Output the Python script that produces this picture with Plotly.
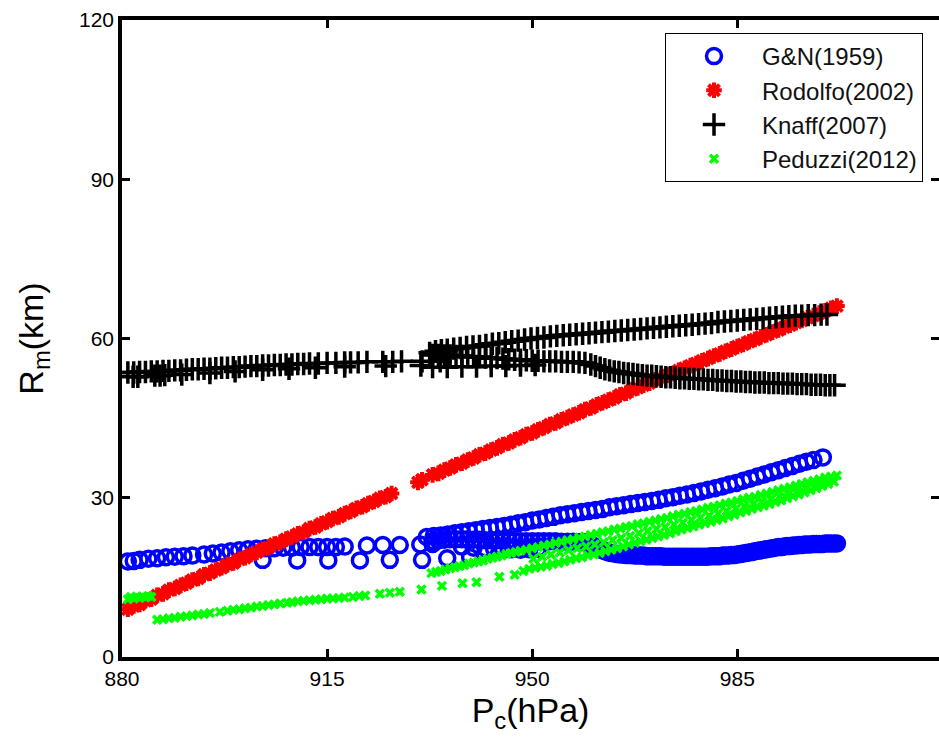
import plotly.graph_objects as go

# Radius of maximum wind (km) versus central pressure (hPa) for four empirical models.
# Each branch is a list of (Pc, Rm) pairs.

# G&N (1959)
gn_upper_left = [(881, 18.0), (882, 18.1), (883, 18.3), (884.5, 18.5), (886, 18.6), (887.5, 18.8),
                 (889, 18.9), (890.5, 19.0), (892, 19.1), (894, 19.3), (895.5, 19.5), (897, 19.7),
                 (898.5, 19.9), (900, 20.1), (901.5, 20.3), (903, 20.4), (904.5, 20.5), (906, 20.5),
                 (907.5, 20.6), (909, 20.6), (910.5, 20.7), (912, 20.7), (913.5, 20.7), (915, 20.7),
                 (916.5, 20.7), (918, 20.8), (921.8, 21.0), (924.5, 21.1), (927.4, 21.1), (930.9, 21.2),
                 (933, 21.3)]
gn_sparse_low = [(904.0, 18.3), (909.9, 18.2), (915.2, 18.2), (920.6, 18.2), (925.7, 18.3),
                 (931.2, 18.3), (935.5, 18.6), (939.4, 18.8)]
gn_upper_right = [(932.0, 22.6), (933.2, 22.8), (934.4, 22.9), (935.6, 23.1), (936.8, 23.3), (938.0, 23.5),
                  (939.2, 23.7), (940.4, 23.9), (941.6, 24.1), (942.8, 24.3), (944.0, 24.5), (945.2, 24.7),
                  (946.4, 24.9), (947.6, 25.2), (948.8, 25.4), (950.0, 25.7), (951.2, 25.9), (952.4, 26.2),
                  (953.6, 26.4), (954.8, 26.7), (956.0, 26.9), (957.2, 27.1), (958.4, 27.3), (959.6, 27.5),
                  (960.8, 27.7), (962.0, 27.9), (963.2, 28.2), (964.4, 28.4), (965.6, 28.6), (966.8, 28.8),
                  (968.0, 29.0), (969.2, 29.2), (970.4, 29.4), (971.6, 29.6), (972.8, 29.9), (974.0, 30.1),
                  (975.2, 30.4), (976.4, 30.6), (977.6, 30.9), (978.8, 31.2), (980.0, 31.5), (981.2, 31.8),
                  (982.4, 32.1), (983.6, 32.5), (984.8, 32.8), (986.0, 33.2), (987.2, 33.6), (988.4, 34.0),
                  (989.6, 34.4), (990.8, 34.8), (992.0, 35.2), (993.2, 35.6), (994.4, 36.0), (995.6, 36.4),
                  (996.8, 36.8), (998.0, 37.1), (999.6, 37.6)]
gn_lower_right = [(933, 21.8), (934, 22.0), (935, 22.1), (936, 22.2), (937, 22.2), (938, 22.2), (939, 22.2),
                  (940, 22.1), (941, 22.1), (942, 22.0), (943, 22.0), (944, 22.0), (945, 21.9), (946, 21.9),
                  (947, 21.9), (948, 21.8), (949, 21.8), (950, 21.8), (951, 21.8), (952, 21.8), (953, 21.8),
                  (954, 21.8), (955, 21.7), (956, 21.7), (957, 21.7), (958, 21.6),
                  (959, 21.6), (959.5, 21.4), (960, 21.2), (960.5, 20.9), (961, 20.6), (961.5, 20.3),
                  (962, 20.1), (962.5, 19.9), (963, 19.7), (963.5, 19.6), (964, 19.5), (964.5, 19.4),
                  (965, 19.3), (965.5, 19.3), (966, 19.2), (966.5, 19.2), (967, 19.2), (967.5, 19.1),
                  (968, 19.1), (968.5, 19.1), (969, 19.1), (969.5, 19.0), (970, 19.0), (970.5, 19.0),
                  (971, 19.0), (971.5, 19.0), (972, 19.0), (972.5, 18.9), (973, 18.9), (973.5, 18.9),
                  (974, 18.9), (974.5, 18.9), (975, 18.9), (975.5, 18.9), (976, 18.9), (976.5, 18.9),
                  (977, 18.9), (977.5, 18.9), (978, 18.9), (978.5, 18.9), (979, 18.9), (979.5, 18.9),
                  (980, 18.9), (980.5, 19.0), (981, 19.0), (981.5, 19.0), (982, 19.0), (982.5, 19.1),
                  (983, 19.1), (983.5, 19.1), (984, 19.2), (984.5, 19.2), (985, 19.3), (985.5, 19.4),
                  (986, 19.5), (986.5, 19.6), (987, 19.7), (987.5, 19.8), (988, 19.9), (988.5, 20.0),
                  (989, 20.1), (989.5, 20.2), (990, 20.3), (990.5, 20.4), (991, 20.5), (991.5, 20.6),
                  (992, 20.7), (992.5, 20.7), (993, 20.8), (993.5, 20.9), (994, 20.9), (994.5, 21.0),
                  (995, 21.0), (995.5, 21.1), (996, 21.1), (996.5, 21.2), (997, 21.2), (997.5, 21.2),
                  (998, 21.3), (998.5, 21.3), (999, 21.3), (999.5, 21.3), (1000, 21.4), (1000.5, 21.4),
                  (1001, 21.4), (1001.5, 21.4), (1002, 21.4)]
gn_mid = [(938, 20.8), (940, 20.6), (942, 20.5), (943.5, 20.4), (945, 20.3), (946.5, 20.3),
          (948, 20.2), (949.5, 20.3), (951, 20.4)]

# Rodolfo (2002)
rod = [(881, 9.0), (882, 9.6), (883, 9.9), (884, 10.6), (885, 10.9), (886, 11.6), (887, 11.9), (888, 12.6),
       (889, 12.9), (890, 13.5), (891, 13.9), (892, 14.5), (893, 14.8), (894, 15.5), (895, 15.8), (896, 16.4),
       (897, 16.8), (898, 17.4), (899, 17.7), (900, 18.4), (901, 18.7), (902, 19.3), (903, 19.7), (904, 20.3),
       (905, 20.6), (906, 21.3), (907, 21.6), (908, 22.2), (909, 22.6), (910, 23.2), (911, 23.5), (912, 24.2),
       (913, 24.5), (914, 25.1), (915, 25.5), (916, 26.1), (917, 26.4), (918, 27.0), (919, 27.4), (920, 28.0),
       (921, 28.3), (922, 28.9), (923, 29.3), (924, 29.9), (925, 30.2), (926, 30.8), (930.5, 32.9),
       (931.2, 33.4), (933, 34.3), (934, 34.6), (935, 35.2), (936, 35.6), (937, 36.2), (938, 36.5),
       (939, 37.1), (940, 37.5), (941, 38.1), (942, 38.4), (943, 39.0), (944, 39.4), (945, 40.0), (946, 40.3),
       (947, 40.9), (948, 41.3), (949, 41.9), (950, 42.2), (951, 42.8), (952, 43.2), (953, 43.8), (954, 44.1),
       (955, 44.7), (956, 45.1), (957, 45.6), (958, 46.0), (959, 46.6), (960, 46.9), (961, 47.5), (962, 47.9),
       (963, 48.4), (964, 48.8), (965, 49.4), (966, 49.7), (967, 50.3), (968, 50.7), (969, 51.2), (970, 51.6),
       (971, 52.2), (972, 52.5), (973, 53.1), (974, 53.4), (975, 54.0), (976, 54.4), (977, 54.9), (978, 55.3),
       (979, 55.8), (980, 56.2), (981, 56.7), (982, 57.1), (983, 57.6), (984, 58.0), (985, 58.5), (986, 58.9),
       (987, 59.4), (988, 59.8), (989, 60.3), (990, 60.7), (991, 61.2), (992, 61.6), (993, 62.1), (994, 62.5),
       (995, 63.0), (996, 63.4), (997, 63.9), (998, 64.3), (999, 64.8), (1000, 65.2), (1001, 65.7),
       (1002, 66.1)]

# Knaff (2007)
kn_left = [(881, 53.6), (882, 53.6), (883, 53.7), (884, 53.7), (885, 53.8), (886, 53.8), (887, 53.9),
           (888, 53.9), (889, 54.0), (890, 54.0), (891, 54.1), (892, 54.2), (893, 54.2), (894, 54.3),
           (895, 54.3), (896, 54.4), (897, 54.5), (898, 54.5), (899, 54.6), (900, 54.6), (901, 54.7),
           (902, 54.8), (903, 54.8), (904, 54.9), (905, 54.9), (906, 55.0), (907, 55.0), (908, 55.1),
           (909, 55.1), (910, 55.2), (911, 55.2), (912, 55.3), (913.5, 55.3), (915, 55.4), (916.5, 55.4),
           (918, 55.5), (919, 55.5), (920.3, 55.5), (921.8, 55.6), (924.5, 55.6), (926.2, 55.6),
           (927.7, 55.7), (931.2, 55.7), (934.3, 55.7)]
kn_left_low = [(881.9, 52.8), (882.7, 52.8), (885.6, 53.0), (886.5, 53.0), (887.3, 53.1), (890.2, 53.2),
               (895, 53.5), (899.3, 53.8), (904, 54.1), (908.5, 54.3), (913, 54.5), (918, 54.7),
               (925, 54.8), (931, 54.9)]
kn_upper = [(932.5, 57.3), (933.5, 57.6), (934.5, 57.8), (935.5, 57.9), (936.6, 58.1), (937.7, 58.2),
            (938.8, 58.4), (939.9, 58.5), (941, 58.6), (942.1, 58.8), (943.2, 59.0), (944.3, 59.1),
            (945.4, 59.3), (946.5, 59.5), (947.6, 59.6), (948.7, 59.8), (949.8, 60.0), (950.9, 60.1),
            (952, 60.2), (953.1, 60.4), (954.2, 60.5), (955.3, 60.6), (956.4, 60.7), (957.5, 60.8),
            (958.6, 60.9), (959.7, 61.0), (960.8, 61.1), (961.9, 61.2), (963, 61.3), (964.1, 61.4),
            (965.2, 61.5), (966.3, 61.6), (967.4, 61.7), (968.5, 61.8), (969.6, 61.9), (970.7, 62.0),
            (971.8, 62.1), (972.9, 62.2), (974, 62.3), (975.1, 62.4), (976.2, 62.5), (977.3, 62.6),
            (978.4, 62.7), (979.5, 62.8), (980.6, 62.9), (981.7, 63.1), (982.8, 63.2), (983.9, 63.3),
            (985, 63.4), (986.1, 63.5), (987.2, 63.6), (988.3, 63.7), (989.4, 63.8), (990.5, 63.9),
            (991.6, 64.0), (992.7, 64.1), (993.8, 64.2), (994.9, 64.3), (996, 64.3), (997.1, 64.4),
            (998.2, 64.4), (999.3, 64.5), (1000.3, 64.5)]
kn_lower = [(933, 56.9), (934, 56.9), (935, 56.8), (936, 56.8), (937, 56.7), (938, 56.7), (939, 56.6),
            (940, 56.5), (941, 56.5), (942, 56.4), (943, 56.3), (944, 56.3), (945, 56.2), (946, 56.1),
            (947, 56.0), (948, 56.0), (949, 55.9), (950, 55.8), (951, 55.8), (952, 55.7), (953, 55.7),
            (954, 55.7), (955, 55.6), (956, 55.6), (957, 55.6), (958, 55.5), (959, 55.4), (960, 55.1),
            (960.8, 54.8), (961.6, 54.5), (962.4, 54.2), (963.2, 54.0), (964, 53.8), (964.8, 53.7),
            (965.6, 53.5), (966.4, 53.4), (967.2, 53.3), (968, 53.2), (968.8, 53.1), (969.6, 53.0),
            (970.4, 53.0), (971.2, 52.9), (972, 52.8), (972.8, 52.7), (973.6, 52.7), (974.4, 52.6),
            (975.2, 52.5), (976, 52.5), (976.8, 52.4), (977.6, 52.4), (978.4, 52.3), (979.2, 52.3),
            (980, 52.2), (980.8, 52.2), (981.6, 52.1), (982.4, 52.1), (983.2, 52.0), (984, 52.0),
            (984.8, 51.9), (985.6, 51.9), (986.4, 51.8), (987.2, 51.8), (988, 51.7), (988.8, 51.7),
            (989.6, 51.7), (990.4, 51.6), (991.2, 51.6), (992, 51.6), (992.8, 51.5), (993.6, 51.5),
            (994.4, 51.5), (995.2, 51.4), (996, 51.4), (996.8, 51.4), (997.6, 51.3), (998.4, 51.3),
            (999.2, 51.3), (1000, 51.2), (1000.8, 51.2), (1001.6, 51.2)]
kn_lower_low = [(933, 54.6), (935.5, 54.6), (938, 54.7), (940.5, 54.7), (943, 54.8), (945.5, 54.8),
                (948, 54.9), (950.5, 55.0)]

# Peduzzi (2012)
pd_cluster = [(881, 10.9), (881.5, 11.3), (882, 11.0), (882.5, 11.4), (883, 11.1), (883.5, 11.4),
              (884, 11.2), (884.5, 11.5), (885, 11.3)]
pd_low = [(886, 7.0), (887, 7.1), (888, 7.3), (889, 7.4), (890, 7.6), (891, 7.7), (892, 7.8), (893, 8.0),
          (894, 8.1), (895, 8.3), (896.7, 8.5), (898, 8.7), (899, 8.9), (900, 9.0), (901, 9.2), (902, 9.3),
          (903, 9.5), (904, 9.6), (905, 9.8), (906, 9.9), (907, 10.1), (908.2, 10.2), (909, 10.3),
          (910, 10.5), (911, 10.6), (912, 10.7), (913, 10.8), (914, 10.9), (915, 11.0), (916, 11.0),
          (917, 11.1), (918, 11.2), (919.4, 11.3), (920.5, 11.5), (921.5, 11.6), (924, 11.9),
          (925.7, 12.1), (927.4, 12.3), (931.1, 12.7), (934.6, 13.4)]
pd_low_right = [(938.1, 13.9), (940.5, 14.1), (944.4, 15.1), (947, 15.5), (948.5, 16.2), (949.5, 16.6),
                (950.5, 16.8), (951.5, 17.0), (952.5, 17.2), (953.5, 17.5), (954.5, 17.7), (955.5, 18.0),
                (956.5, 18.3), (957.5, 18.6), (958.5, 18.8), (959.5, 19.1), (960.5, 19.3), (961.5, 19.6),
                (962.5, 19.9), (963.5, 20.2), (964.5, 20.5), (965.5, 20.8), (966.5, 21.2), (967.5, 21.5),
                (968.5, 21.8), (969.5, 22.1), (970.5, 22.4), (971.5, 22.7), (972.5, 23.0), (973.5, 23.3),
                (974.5, 23.7), (975.5, 24.0), (976.5, 24.3), (977.5, 24.6), (978.5, 24.9), (979.5, 25.2),
                (980.5, 25.5), (981.5, 25.8), (982.5, 26.1), (983.5, 26.5), (984.5, 26.8), (985.5, 27.2),
                (986.5, 27.5), (987.5, 27.9), (988.5, 28.2), (989.5, 28.5), (990.5, 28.8), (991.5, 29.2),
                (992.5, 29.5), (993.5, 29.9), (994.5, 30.3), (995.5, 30.6), (996.5, 31.0), (997.5, 31.4),
                (998.5, 31.8), (999.5, 32.2), (1000.5, 32.6), (1001.5, 33.0)]
pd_mid_right = [(950.2, 18.5), (951.7, 18.9), (953.2, 19.3), (954.7, 19.7), (956.2, 20.1), (957.7, 20.5),
                (959.2, 20.8), (960.7, 21.2), (962.2, 21.6), (963.7, 22.0), (965.2, 22.4), (966.7, 22.8),
                (968.2, 23.3), (969.7, 23.7), (971.2, 24.1), (972.7, 24.5), (974.2, 24.9), (975.7, 25.3),
                (977.2, 25.8), (978.7, 26.2), (980.2, 26.6), (981.7, 27.0), (983.2, 27.5), (984.7, 27.9),
                (986.2, 28.4), (987.7, 28.8), (989.2, 29.3), (990.7, 29.7), (992.2, 30.2), (993.7, 30.7),
                (995.2, 31.2), (996.7, 31.7), (998.2, 32.2), (999.7, 32.8)]
pd_up_right = [(932.8, 15.8), (933.6, 16.0), (934.4, 16.2), (935.2, 16.5), (936, 16.7), (936.8, 16.9),
               (937.6, 17.1), (938.4, 17.3), (939.2, 17.6), (940, 17.8), (940.8, 18.0), (941.6, 18.2),
               (942.4, 18.5), (943.2, 18.7), (944, 18.9), (944.8, 19.1), (945.6, 19.4), (946.4, 19.6),
               (947.2, 19.8), (948, 20.0), (949, 20.2), (950, 20.5), (951, 20.7), (952, 21.0), (953, 21.2),
               (954, 21.5), (955, 21.7), (956, 22.0), (957, 22.2), (958, 22.5), (959, 22.7), (960, 23.0),
               (961, 23.2), (962, 23.5), (963, 23.7), (964, 24.0), (965, 24.2), (966, 24.5), (967, 24.7),
               (968, 25.0), (969, 25.2), (970, 25.5), (971, 25.7), (972, 26.0), (973, 26.2), (974, 26.5),
               (975, 26.8), (976, 27.0), (977, 27.3), (978, 27.5), (979, 27.8), (980, 28.1), (981, 28.3),
               (982, 28.6), (983, 28.9), (984, 29.1), (985, 29.4), (986, 29.7), (987, 30.0), (988, 30.2),
               (989, 30.5), (990, 30.8), (991, 31.1), (992, 31.4), (993, 31.7), (994, 32.0), (995, 32.3),
               (996, 32.6), (997, 32.9), (998, 33.2), (999, 33.5), (1000, 33.8), (1001, 34.0), (1002, 34.2)]

x_ticks = [880, 915, 950, 985]
y_ticks = [0, 30, 60, 90, 120]

FONT = "Liberation Sans, Arial, Helvetica, sans-serif"


def split(*branches):
    pc, rm = [], []
    for b in branches:
        for p, r in b:
            pc.append(p)
            rm.append(r)
    return pc, rm


series = [
    ("G&N(1959)", split(gn_upper_left, gn_sparse_low, gn_upper_right, gn_lower_right, gn_mid),
     dict(symbol="circle-open", size=15, color="#0000ff", line=dict(width=3.5, color="#0000ff"))),
    ("Rodolfo(2002)", split(rod),
     dict(symbol="asterisk-open", size=13, color="#ff0000", line=dict(width=4, color="#ff0000"))),
    ("Knaff(2007)", split(kn_left, kn_left_low, kn_upper, kn_lower, kn_lower_low),
     dict(symbol="cross-thin-open", size=16, color="#000000", line=dict(width=3.5, color="#000000"))),
    ("Peduzzi(2012)", split(pd_cluster, pd_low, pd_low_right, pd_mid_right, pd_up_right),
     dict(symbol="x-thin-open", size=8, color="#00ff00", line=dict(width=3.5, color="#00ff00"))),
]

fig = go.Figure()
for name, (pc, rm), marker in series:
    fig.add_trace(go.Scatter(x=pc, y=rm, mode="markers", name=name, marker=marker,
                             hoverinfo="skip"))

# invisible trace that carries the right-hand tick axis
fig.add_trace(go.Scatter(x=[880], y=[0], yaxis="y2", mode="markers", showlegend=False,
                         marker=dict(opacity=0), hoverinfo="skip"))

x_max = 880 + 817 / 5.86

fig.update_layout(
    width=939, height=749,
    margin=dict(l=122, r=0, t=20, b=92),
    paper_bgcolor="white", plot_bgcolor="white",
    font=dict(family=FONT, color="black"),
    xaxis=dict(range=[880, x_max], tickvals=x_ticks, ticks="inside", ticklen=8, tickwidth=2.5,
               tickcolor="black", showline=True, linewidth=3.5, linecolor="black", mirror="ticks",
               showgrid=False, zeroline=False, tickfont=dict(size=21, family=FONT),
               title=dict(text="P<sub>c</sub>(hPa)", font=dict(size=34, family=FONT), standoff=10)),
    yaxis=dict(range=[0, 120], tickvals=y_ticks, ticks="inside", ticklen=8, tickwidth=2.5,
               tickcolor="black", showline=True, linewidth=3.5, linecolor="black",
               showgrid=False, zeroline=False, tickfont=dict(size=21, family=FONT),
               title=dict(text="R<sub>m</sub>(km)", font=dict(size=34, family=FONT), standoff=26)),
    yaxis2=dict(range=[0, 120], tickvals=y_ticks, ticks="inside", ticklen=8, tickwidth=2.5,
                tickcolor="black", overlaying="y", side="right", anchor="x", showline=False,
                showgrid=False, zeroline=False, showticklabels=False),
    legend=dict(x=(665 - 122) / 817, y=(657 - 33) / 637, xanchor="left", yanchor="top",
                bgcolor="white", bordercolor="black", borderwidth=1,
                font=dict(size=24, family=FONT, color="#111111"), itemwidth=86),
    showlegend=True,
)

fig.write_html("out.html")
